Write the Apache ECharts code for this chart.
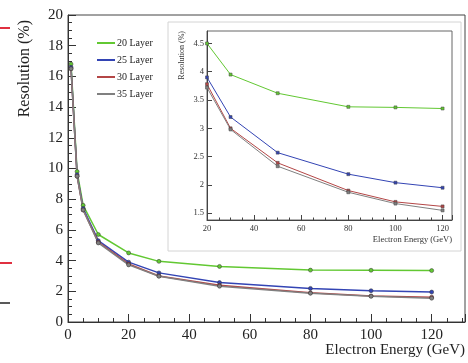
<!DOCTYPE html>
<html>
<head>
<meta charset="utf-8">
<script src="https://cdn.jsdelivr.net/npm/echarts@6/dist/echarts.min.js"></script>
<style>
  html, body { margin: 0; padding: 0; background: #fff; }
  #main { width: 468px; height: 363px; }
</style>
</head>
<body>
<div id="main"></div>
<script>
// energies (GeV)
var energy = [1, 3, 5, 10, 20, 30, 50, 80, 100, 120];
var layer20 = [16.8, 9.8, 7.6, 5.7, 4.5, 3.95, 3.62, 3.38, 3.37, 3.35];
var layer25 = [16.6, 9.6, 7.4, 5.3, 3.9, 3.2, 2.57, 2.19, 2.04, 1.95];
var layer30 = [16.5, 9.5, 7.3, 5.2, 3.78, 3.0, 2.39, 1.9, 1.7, 1.62];
var layer35 = [16.5, 9.5, 7.3, 5.15, 3.72, 2.98, 2.33, 1.87, 1.67, 1.55];

// inset shows energies from 20 GeV on
var insetStart = 4;
var insetYLabels = [1.5, 2, 2.5, 3, 3.5, 4, 4.5];

var names = ['20 Layer', '25 Layer', '30 Layer', '35 Layer'];
var colors = ['#62c832', '#3344b4', '#b44646', '#808080'];
var allData = [layer20, layer25, layer30, layer35];

var serif = '"Liberation Serif", "DejaVu Serif", serif';

function pairs(vals, start) {
    var out = [];
    for (let i = start; i < energy.length; i++) {
        out.push([energy[i], vals[i]]);
    }
    return out;
}

var series = [];
for (let k = 0; k < names.length; k++) {
    series.push({
        name: names[k],
        type: 'line',
        xAxisIndex: 0,
        yAxisIndex: 0,
        data: pairs(allData[k], 0),
        symbol: 'circle',
        symbolSize: 4,
        lineStyle: { color: colors[k], width: 1.5 },
        itemStyle: { color: colors[k], borderColor: '#333', borderWidth: 0.5 },
        z: 2
    });
}
for (let k = 0; k < names.length; k++) {
    series.push({
        name: names[k],
        type: 'line',
        xAxisIndex: 1,
        yAxisIndex: 1,
        data: pairs(allData[k], insetStart),
        symbol: 'rect',
        symbolSize: 3,
        lineStyle: { color: colors[k], width: 1 },
        itemStyle: { color: colors[k], borderColor: '#444', borderWidth: 0.5 },
        z: 10
    });
}

var myChart = echarts.init(document.getElementById('main'));
myChart.setOption({
    animation: false,
    backgroundColor: '#fff',
    legend: {
        data: names,
        orient: 'vertical',
        left: 92,
        top: 33,
        itemGap: 7,
        itemWidth: 18,
        itemHeight: 2,
        icon: 'rect',
        itemStyle: { borderWidth: 0 },
        textStyle: { fontFamily: serif, fontSize: 10, color: '#222', padding: [0, 0, 0, -3] }
    },
    graphic: [
        {
            type: 'rect', z: 5,
            shape: { x: 168, y: 22, width: 293, height: 229 },
            style: { fill: '#fff', stroke: '#d4d4d4', lineWidth: 1 }
        },
        { type: 'line', shape: { x1: 0, y1: 28, x2: 10, y2: 28 }, style: { stroke: '#e03040', lineWidth: 2 } },
        { type: 'line', shape: { x1: 0, y1: 263, x2: 12, y2: 263 }, style: { stroke: '#e03040', lineWidth: 2 } },
        { type: 'line', shape: { x1: 0, y1: 303, x2: 10, y2: 303 }, style: { stroke: '#222', lineWidth: 1.5 } }
    ],
    grid: [
        { left: 68, right: 3, top: 15, bottom: 41, show: true, borderColor: '#444', borderWidth: 1, backgroundColor: 'transparent' },
        { left: 207, right: 16, top: 31, bottom: 143, show: true, borderColor: '#666', borderWidth: 1, backgroundColor: 'transparent', z: 8 }
    ],
    xAxis: [
        {
            type: 'value', gridIndex: 0, min: 0, max: 131, interval: 20,
            name: 'Electron Energy (GeV)', nameLocation: 'end', nameGap: 0,
            nameTextStyle: { fontFamily: serif, fontSize: 15, color: '#222', align: 'right', verticalAlign: 'top', padding: [21, 0, 0, 0] },
            axisLine: { lineStyle: { color: '#333' } },
            axisTick: { inside: true, length: 8, lineStyle: { color: '#333' } },
            minorTick: { show: true, splitNumber: 4, length: 4, lineStyle: { color: '#333' } },
            axisLabel: { fontFamily: serif, fontSize: 15, color: '#222', margin: 6, showMaxLabel: false },
            splitLine: { show: false }
        },
        {
            type: 'value', gridIndex: 1, min: 20, max: 124, interval: 20, z: 9,
            name: 'Electron Energy (GeV)', nameLocation: 'end', nameGap: 0,
            nameTextStyle: { fontFamily: serif, fontSize: 8.5, color: '#333', align: 'right', verticalAlign: 'top', padding: [15, 0, 0, 0] },
            axisLine: { lineStyle: { color: '#444' } },
            axisTick: { inside: true, length: 5, lineStyle: { color: '#444' } },
            minorTick: { show: true, splitNumber: 4, length: 2.5, lineStyle: { color: '#444' } },
            axisLabel: { fontFamily: serif, fontSize: 8.5, color: '#333', margin: 4, showMaxLabel: false },
            splitLine: { show: false }
        }
    ],
    yAxis: [
        {
            type: 'value', gridIndex: 0, min: 0, max: 20, interval: 2,
            name: 'Resolution (%)', nameLocation: 'end', nameGap: -5, nameRotate: 90,
            nameTextStyle: { fontFamily: serif, fontSize: 16, color: '#222', align: 'right', verticalAlign: 'bottom', padding: [0, 0, 35, 0] },
            axisLine: { lineStyle: { color: '#333' } },
            axisTick: { inside: true, length: 8, lineStyle: { color: '#333' } },
            minorTick: { show: true, splitNumber: 4, length: 4, lineStyle: { color: '#333' } },
            axisLabel: { fontFamily: serif, fontSize: 15, color: '#222', margin: 5 },
            splitLine: { show: false }
        },
        {
            type: 'value', gridIndex: 1, min: 1.38, max: 4.72, z: 9,
            name: 'Resolution (%)', nameLocation: 'end', nameGap: 0, nameRotate: 90,
            nameTextStyle: { fontFamily: serif, fontSize: 8, color: '#333', align: 'right', verticalAlign: 'bottom', padding: [0, 0, 21, 0] },
            axisLine: { lineStyle: { color: '#444' } },
            axisTick: { inside: true, length: 5, customValues: insetYLabels, lineStyle: { color: '#444' } },
            axisLabel: {
                fontFamily: serif, fontSize: 8.5, color: '#333', margin: 3,
                customValues: insetYLabels,
                formatter: function (v) { return String(v); }
            },
            splitLine: { show: false }
        }
    ],
    series: series
});
</script>
</body>
</html>
